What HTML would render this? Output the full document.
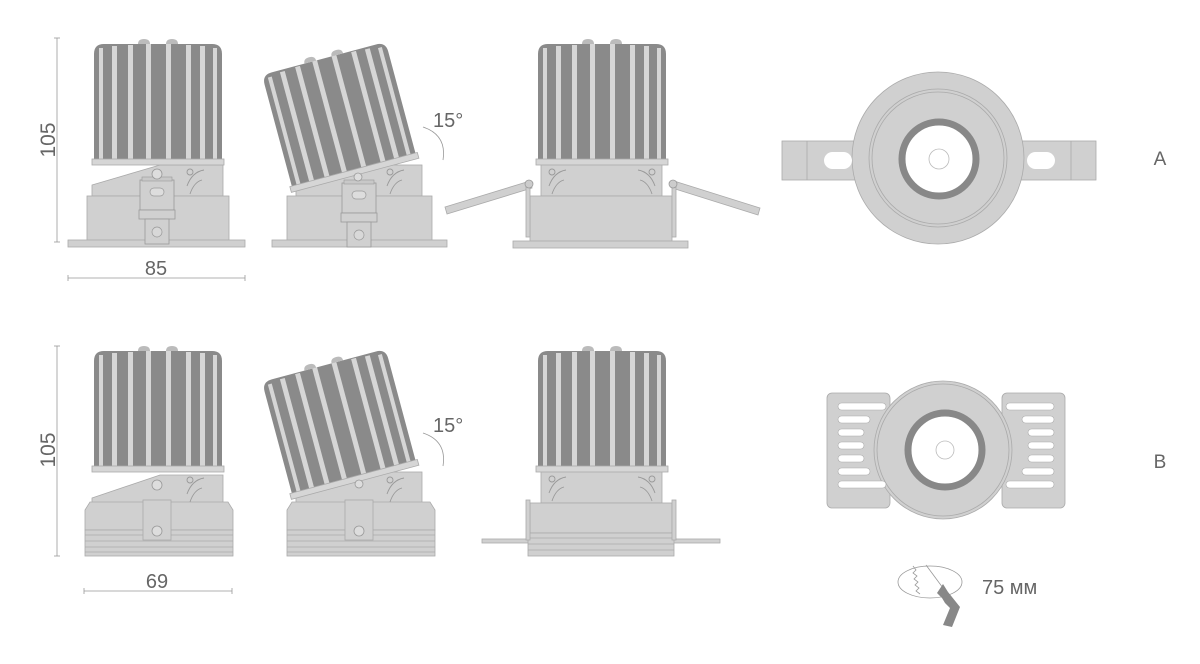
<!DOCTYPE html>
<html><head><meta charset="utf-8"><style>
html,body{margin:0;padding:0;background:#fff;}
svg{display:block}
text{font-family:"Liberation Sans",sans-serif;fill:#666;}
</style></head><body>
<svg width="1200" height="664" viewBox="0 0 1200 664" xmlns="http://www.w3.org/2000/svg">
<defs>
  <g id="hs">
    <path d="M0,116 L0,10 Q0,0 10,0 L118,0 Q128,0 128,10 L128,116 Z" fill="#8a8a8a"/>
    <g fill="#d6d6d6">
      <rect x="5" y="4" width="4" height="112"/>
      <rect x="18" y="2" width="5" height="114"/>
      <rect x="34" y="1" width="5" height="115"/>
      <rect x="52" y="0" width="5" height="116"/>
      <rect x="72" y="0" width="5" height="116"/>
      <rect x="92" y="1" width="5" height="115"/>
      <rect x="106" y="2" width="5" height="114"/>
      <rect x="119" y="4" width="4" height="112"/>
    </g>
    <path d="M44,0 Q44,-5 50,-5 Q56,-5 56,0 Z M72,0 Q72,-5 78,-5 Q84,-5 84,0Z" fill="#bbb"/>
    <rect x="-2" y="115" width="132" height="6" fill="#d6d6d6" stroke="#aaa" stroke-width="0.8"/>
  </g>
  <g id="clip">
    <rect x="0" y="0" width="34" height="30" fill="#d0d0d0" stroke="#999" stroke-width="0.8"/>
    <rect x="2" y="-3" width="30" height="4" fill="#c8c8c8" stroke="#999" stroke-width="0.6"/>
    <rect x="10" y="8" width="14" height="8" rx="4" fill="#ddd" stroke="#999" stroke-width="0.7"/>
    <rect x="-1" y="30" width="36" height="9" fill="#d0d0d0" stroke="#999" stroke-width="0.8"/>
    <rect x="5" y="39" width="24" height="25" fill="#d0d0d0" stroke="#999" stroke-width="0.8"/>
    <circle cx="17" cy="52" r="5" fill="#d8d8d8" stroke="#999" stroke-width="0.7"/>
  </g>
  <g id="orn" fill="none" stroke="#999" stroke-width="0.9">
    <circle cx="0" cy="0" r="3"/>
    <path d="M-3,14 Q2,0 14,-2 M0,22 Q4,10 12,8"/>
  </g>
</defs>

<g stroke="#999" stroke-width="0.8">
  <line x1="57" y1="38" x2="57" y2="242"/><line x1="54" y1="38" x2="60" y2="38"/><line x1="54" y1="242" x2="60" y2="242"/>
  <line x1="68" y1="278" x2="245" y2="278"/><line x1="68" y1="275" x2="68" y2="281"/><line x1="245" y1="275" x2="245" y2="281"/>
  <line x1="57" y1="346" x2="57" y2="556"/><line x1="54" y1="346" x2="60" y2="346"/><line x1="54" y1="556" x2="60" y2="556"/>
  <line x1="84" y1="591" x2="232" y2="591"/><line x1="84" y1="588" x2="84" y2="594"/><line x1="232" y1="588" x2="232" y2="594"/>
</g>
<text x="48" y="140" font-size="21" text-anchor="middle" transform="rotate(-90 48 140)" dy="7">105</text>
<text x="48" y="450" font-size="21" text-anchor="middle" transform="rotate(-90 48 450)" dy="7">105</text>
<text x="156" y="275" font-size="20" text-anchor="middle">85</text>
<text x="157" y="588" font-size="20" text-anchor="middle">69</text>

<!-- A1 -->
<g stroke="#aaa" stroke-width="0.8" fill="#d0d0d0">
  <path d="M92,185 L160,165 L223,165 L223,196 L92,196 Z"/>
  <rect x="87" y="196" width="142" height="45"/>
  <rect x="68" y="240" width="177" height="7"/>
</g>
<use href="#hs" x="94" y="44"/>
<use href="#clip" x="140" y="180"/>
<circle cx="157" cy="174" r="5" fill="#ddd" stroke="#999" stroke-width="0.8"/>
<use href="#orn" x="190" y="172"/>

<!-- A2 -->
<g stroke="#aaa" stroke-width="0.8" fill="#d0d0d0">
  <rect x="296" y="165" width="126" height="31"/>
  <rect x="287" y="196" width="145" height="45"/>
  <rect x="272" y="240" width="175" height="7"/>
</g>
<use href="#hs" transform="translate(262,75) rotate(-15)"/>
<use href="#clip" x="342" y="183"/>
<circle cx="358" cy="177" r="4" fill="#ddd" stroke="#999" stroke-width="0.8"/>
<use href="#orn" x="390" y="172"/>
<text x="433" y="127" font-size="20">15°</text>
<path d="M423,127 Q447,135 443,160" fill="none" stroke="#999" stroke-width="0.8"/>

<!-- A3 -->
<g stroke="#aaa" stroke-width="0.8" fill="#d0d0d0">
  <rect x="541" y="163" width="121" height="33"/>
  <rect x="530" y="196" width="142" height="46"/>
  <rect x="513" y="241" width="175" height="7"/>
  <path d="M530,181 L445,207 L447,214 L532,188 Z"/>
  <path d="M674,181 L760,208 L758,215 L672,188 Z"/>
  <rect x="526" y="185" width="4" height="52"/><rect x="672" y="185" width="4" height="52"/>
</g>
<circle cx="529" cy="184" r="4" fill="#ccc" stroke="#999" stroke-width="0.8"/>
<circle cx="673" cy="184" r="4" fill="#ccc" stroke="#999" stroke-width="0.8"/>
<use href="#hs" x="538" y="44"/>
<use href="#orn" x="552" y="172"/>
<use href="#orn" transform="translate(652,172) scale(-1,1)"/>

<!-- Top view A -->
<g stroke="#aaa" stroke-width="0.8" fill="#d0d0d0">
  <rect x="782" y="141" width="73" height="39"/>
  <rect x="1020" y="141" width="76" height="39"/>
  <line x1="807" y1="141" x2="807" y2="180"/>
  <line x1="1071" y1="141" x2="1071" y2="180"/>
  <circle cx="938" cy="158" r="86"/>
  <circle cx="938" cy="158" r="69" fill="none"/>
  <circle cx="938" cy="158" r="66" fill="none"/>
</g>
<rect x="824" y="152" width="28" height="17" rx="8.5" fill="#fff"/>
<rect x="1027" y="152" width="28" height="17" rx="8.5" fill="#fff"/>
<circle cx="939" cy="159" r="37" fill="#fff" stroke="#888" stroke-width="7"/>
<circle cx="939" cy="159" r="10" fill="#fff" stroke="#bbb" stroke-width="0.8"/>
<text x="1160" y="165" font-size="19" text-anchor="middle">A</text>

<!-- B1 -->
<g stroke="#aaa" stroke-width="0.8" fill="#d0d0d0">
  <path d="M92,498 L160,475 L223,475 L223,505 L92,505 Z"/>
  <path d="M90,502 L228,502 L233,510 L233,530 L85,530 L85,510 Z"/>
  <rect x="85" y="530" width="148" height="26"/>
  <path d="M85,535 H233 M85,541 H233 M85,547 H233 M85,552 H233" fill="none"/>
  <rect x="143" y="500" width="28" height="40"/>
</g>
<use href="#hs" x="94" y="351"/>
<circle cx="157" cy="531" r="5" fill="#ddd" stroke="#999" stroke-width="0.8"/>
<circle cx="157" cy="485" r="5" fill="#ddd" stroke="#999" stroke-width="0.8"/>
<use href="#orn" x="190" y="480"/>

<!-- B2 -->
<g stroke="#aaa" stroke-width="0.8" fill="#d0d0d0">
  <rect x="296" y="472" width="126" height="33"/>
  <path d="M292,502 L430,502 L435,510 L435,530 L287,530 L287,510 Z"/>
  <rect x="287" y="530" width="148" height="26"/>
  <path d="M287,535 H435 M287,541 H435 M287,547 H435 M287,552 H435" fill="none"/>
  <rect x="345" y="500" width="28" height="40"/>
</g>
<use href="#hs" transform="translate(262,382) rotate(-15)"/>
<circle cx="359" cy="531" r="5" fill="#ddd" stroke="#999" stroke-width="0.8"/>
<circle cx="359" cy="484" r="4" fill="#ddd" stroke="#999" stroke-width="0.8"/>
<use href="#orn" x="390" y="480"/>
<text x="433" y="432" font-size="20">15°</text>
<path d="M423,433 Q447,441 443,466" fill="none" stroke="#999" stroke-width="0.8"/>

<!-- B3 -->
<g stroke="#aaa" stroke-width="0.8" fill="#d0d0d0">
  <rect x="541" y="470" width="121" height="33"/>
  <rect x="482" y="539" width="238" height="4"/>
  <rect x="530" y="503" width="142" height="30"/>
  <rect x="528" y="533" width="146" height="23"/>
  <path d="M528,538 H674 M528,544 H674 M528,550 H674" fill="none"/>
  <rect x="526" y="500" width="4" height="40"/><rect x="672" y="500" width="4" height="40"/>
</g>
<use href="#hs" x="538" y="351"/>
<use href="#orn" x="552" y="479"/>
<use href="#orn" transform="translate(652,479) scale(-1,1)"/>

<!-- Top view B -->
<g stroke="#aaa" stroke-width="0.8" fill="#d0d0d0">
  <rect x="827" y="393" width="63" height="115" rx="5"/>
  <rect x="1002" y="393" width="63" height="115" rx="5"/>
  <circle cx="943" cy="450" r="69"/>
  <circle cx="943" cy="450" r="66" fill="none"/>
</g>
<g fill="#fff" stroke="#aaa" stroke-width="0.6">
  <rect x="838" y="403" width="48" height="7" rx="3.5"/><rect x="838" y="416" width="32" height="7" rx="3.5"/>
  <rect x="838" y="429" width="26" height="7" rx="3.5"/><rect x="838" y="442" width="26" height="7" rx="3.5"/>
  <rect x="838" y="455" width="26" height="7" rx="3.5"/><rect x="838" y="468" width="32" height="7" rx="3.5"/>
  <rect x="838" y="481" width="48" height="7" rx="3.5"/>
  <rect x="1006" y="403" width="48" height="7" rx="3.5"/><rect x="1022" y="416" width="32" height="7" rx="3.5"/>
  <rect x="1028" y="429" width="26" height="7" rx="3.5"/><rect x="1028" y="442" width="26" height="7" rx="3.5"/>
  <rect x="1028" y="455" width="26" height="7" rx="3.5"/><rect x="1022" y="468" width="32" height="7" rx="3.5"/>
  <rect x="1006" y="481" width="48" height="7" rx="3.5"/>
</g>
<circle cx="945" cy="450" r="37" fill="#fff" stroke="#888" stroke-width="7"/>
<circle cx="945" cy="450" r="9" fill="#fff" stroke="#bbb" stroke-width="0.8"/>
<text x="1160" y="468" font-size="19" text-anchor="middle">B</text>

<!-- saw icon -->
<ellipse cx="930" cy="582" rx="32" ry="16" fill="none" stroke="#999" stroke-width="0.8"/>
<path d="M913,566 l3,4 l-3,3 l4,3 l-3,3 l4,3 l-3,3 l4,3 l-3,3 l4,3 M926,565 L943,588" fill="none" stroke="#999" stroke-width="0.8"/>
<path d="M937,593 L943,584 L948,592 L960,607 L952,627 L943,625 L950,608 L945,603 L942,598 Z" fill="#888"/>
<text x="982" y="594" font-size="20">75 мм</text>
</svg>
</body></html>
